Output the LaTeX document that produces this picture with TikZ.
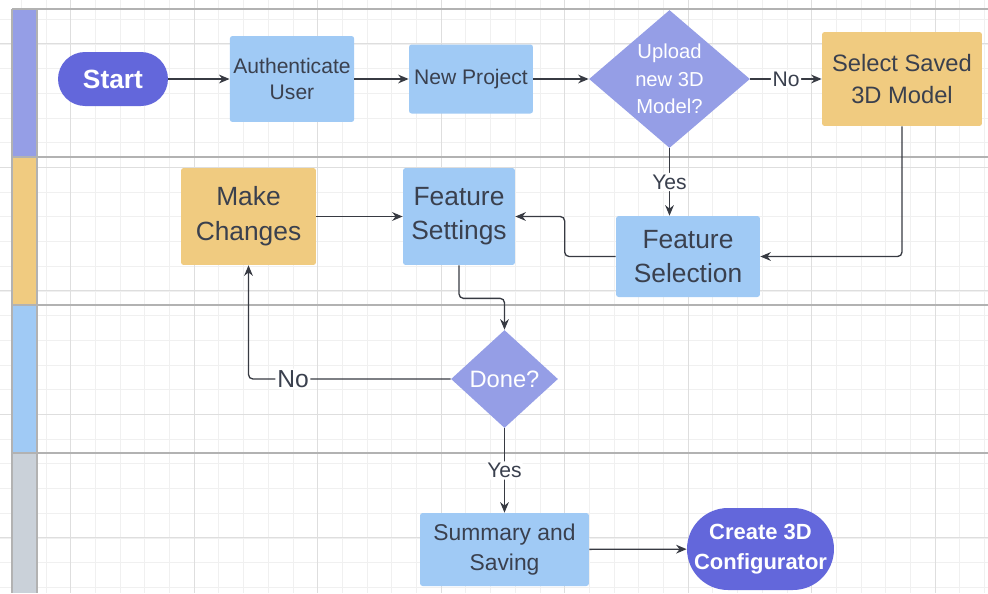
\documentclass[tikz,border=0pt]{standalone}
\usepackage{fontspec}
\setmainfont{Liberation Sans}
\usepackage{tikz}
\usetikzlibrary{calc,shapes.geometric,arrows.meta}
\definecolor{laneviolet}{RGB}{149,158,230}
\definecolor{lanetan}{RGB}{240,203,128}
\definecolor{laneblue}{RGB}{160,202,245}
\definecolor{lanegrey}{RGB}{202,209,217}
\definecolor{terminal}{RGB}{99,103,219}
\definecolor{inktext}{RGB}{58,64,78}
\definecolor{inkline}{RGB}{55,58,66}
\definecolor{gridminor}{RGB}{240,240,240}
\definecolor{gridmajor}{RGB}{222,222,222}
\definecolor{laneline}{RGB}{178,178,178}
\tikzstyle{bluebox}=[rectangle,fill=laneblue,text=inktext,align=center,
                     rounded corners=1.5pt,inner sep=2pt]
\tikzstyle{tanbox}=[rectangle,fill=lanetan,text=inktext,align=center,
                    rounded corners=1.5pt,inner sep=2pt]
\tikzstyle{terminator}=[rectangle,fill=terminal,text=white,align=center]
\tikzstyle{decision}=[diamond,fill=laneviolet,text=white,align=center,
                      inner sep=0pt]
\tikzstyle{flow}=[draw=inkline,line width=0.75pt,rounded corners=2.5pt,
                  -{Stealth[length=6pt,width=5pt]}]
\tikzstyle{flowlabel}=[fill=white,text=inktext,inner sep=1pt,
                       font=\setfs{12}{14}]
\newcommand\setfs[2]{\fontsize{#1}{#2}\selectfont}
\begin{document}
\begin{tikzpicture}[x=0.02cm,y=-0.02cm]
	\useasboundingbox (0,0) rectangle (988,593);
	\foreach \gx in {-3.4,21.3,...,990}
		\draw[gridminor,line width=0.5pt] (\gx,0) -- (\gx,593);
	\foreach \gy in {-5.4,19.3,...,600}
		\draw[gridminor,line width=0.5pt] (0,\gy) -- (988,\gy);
	\foreach \gx in {70.7,194.2,...,990}
		\draw[gridmajor,line width=0.5pt] (\gx,0) -- (\gx,593);
	\foreach \gy in {43.5,167,...,600}
		\draw[gridmajor,line width=0.5pt] (0,\gy) -- (988,\gy);
	\fill[laneviolet] (12,9) rectangle (37,157);
	\fill[lanetan] (12,157) rectangle (37,305);
	\fill[laneblue] (12,305) rectangle (37,453);
	\fill[lanegrey] (12,453) rectangle (37,593);
	\foreach \ly in {9,157,305,453}
		\draw[laneline,line width=1pt] (12,\ly) -- (988,\ly);
	\draw[laneline,line width=1pt] (12,9) -- (12,593) (37,9) -- (37,593);

	\node [terminator,minimum width=2.2cm,minimum height=1.08cm,
		rounded corners=0.54cm,font=\setfs{15}{18}\bfseries] (start) at (113,79) {Start};
	\node [bluebox,minimum width=2.48cm,minimum height=1.72cm,
		font=\setfs{12}{14.8}] (auth) at (292,79) {Authenticate\\User};
	\node [bluebox,minimum width=2.48cm,minimum height=1.38cm,
		font=\setfs{12}{14.8}] (new project) at (471,79) {New Project};
	\node [decision,minimum width=3.22cm,minimum height=2.76cm,shape aspect=1.17,
		font=\setfs{11.5}{15.5}] (upload) at (669.5,79) {Upload\\new 3D\\Model?};
	\node [tanbox,minimum width=3.2cm,minimum height=1.88cm,
		font=\setfs{13.5}{18}] (saved model) at (902,79) {Select Saved\\3D Model};
	\node [bluebox,minimum width=2.88cm,minimum height=1.62cm,
		font=\setfs{15}{19.5}] (feature selection) at (688,256.5) {Feature\\Selection};
	\node [bluebox,minimum width=2.24cm,minimum height=1.94cm,
		font=\setfs{15}{19.5}] (feature settings) at (459,216.5) {Feature\\Settings};
	\node [tanbox,minimum width=2.7cm,minimum height=1.94cm,
		font=\setfs{15}{20}] (make changes) at (248.5,216.5) {Make\\Changes};
	\node [decision,minimum width=2.14cm,minimum height=1.96cm,shape aspect=1.09,
		font=\setfs{13.5}{16}] (done) at (504.5,379) {Done?};
	\node [bluebox,minimum width=3.38cm,minimum height=1.46cm,
		font=\setfs{13}{17.5}] (summary) at (504.5,549.5) {Summary and\\Saving};
	\node [terminator,minimum width=2.94cm,minimum height=1.64cm,
		rounded corners=0.82cm,font=\setfs{12.5}{17}\bfseries] (configurator) at (760.5,549) {Create 3D\\Configurator};

	\draw[flow] (start) -- (auth);
	\draw[flow] (auth) -- (new project);
	\draw[flow] (new project) -- (upload);
	\draw[flow] (upload) -- node[flowlabel] {No} (saved model);
	\draw[flow] (upload) -- node[flowlabel] {Yes} (upload |- feature selection.north);
	\draw[flow] (saved model) |- (feature selection);
	\draw[flow] (feature selection.west) -- ++(-51,0) |- (feature settings);
	\draw[flow] (make changes) -- (feature settings);
	\draw[flow] (feature settings.south) -- ++(0,33) -| (done);
	\draw[flow] (done) -| node[flowlabel,pos=0.39,font=\setfs{14}{16}] {No} (make changes);
	\draw[flow] (done) -- node[flowlabel] {Yes} (summary);
	\draw[flow] (summary) -- (configurator);
\end{tikzpicture}
\end{document}
